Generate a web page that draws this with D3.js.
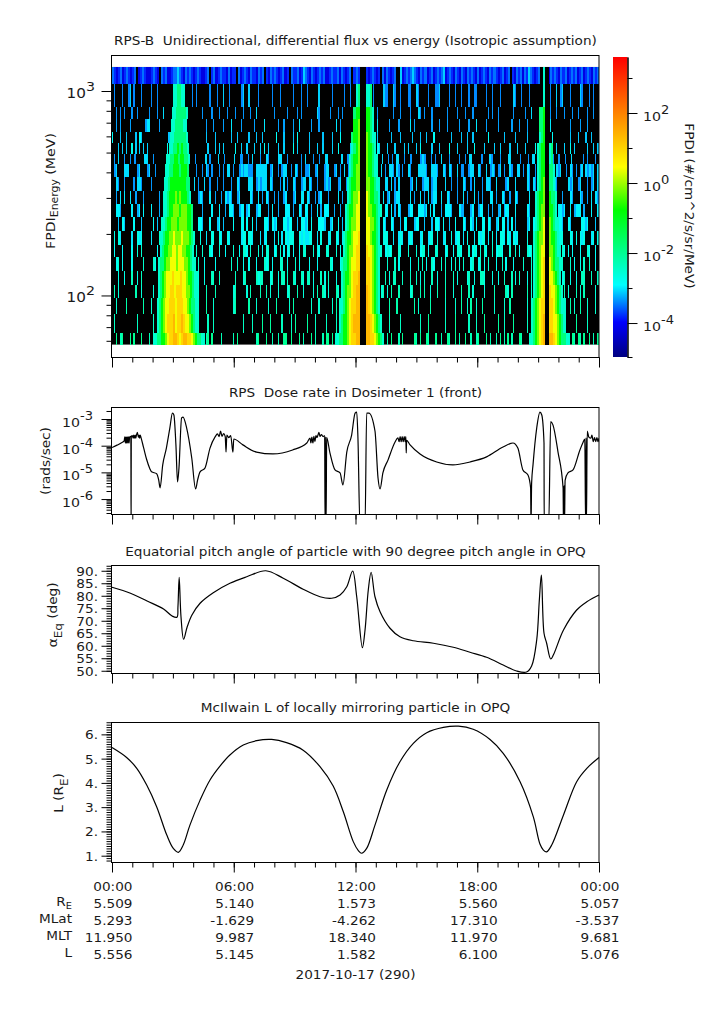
<!DOCTYPE html>
<html>
<head>
<meta charset="utf-8">
<script src="https://cdnjs.cloudflare.com/ajax/libs/d3/7.8.5/d3.min.js"></script>
<style>
  html, body { margin: 0; padding: 0; background: #fff; }
  svg { display: block; }
  text { font-family: "DejaVu Sans", sans-serif; font-size: 12.5px; fill: #1a1a1a; white-space: pre; }
</style>
</head>
<body>
<script>
var w = 725;
var h = 1019;

// energy bin edges of the spectrogram (MeV), top to bottom
var energyEdges = [1311, 1082, 835, 729, 630, 556, 491, 438, 378, 323, 279, 241, 206, 176, 154, 131, 113, 96.7, 81.6, 65.2, 57.5];

// log10 flux of a single count in each energy bin
var noiseLog = [-3.8, -3.4, -3.35, -3.3, -3.15, -3.1, -3.35, -3.35, -3.35, -3.3, -3.25, -3.15, -3.0, -2.85, -2.8, -2.7, -2.6, -2.5, -2.4, -2.3];

// counts per time column: . none, - one, = more, _ less, + most
var noiseRows = [
  "=-_-=_-=-_ -=._-=-__- =-_.=-=__- ==+=-_=-=- _-=-__-=.- =_-=--_=_- -.=_-=-_=- -_=-=.-_=- =-_-=_-.=- -=_-+=-_=- _-=-=__-=- -=_=-_-=.- =-_==-_-=- _-.=_=-_-= ..+_-=-=+= -_=-=_-=_- =-=+_-=-_= -_=-_=-=-_ =_-=-_=-=- _-=_-=.-_= -=_=-+=-_- =..++_=-=- _=-=_-=-=_ -=_-=-_=-=",
  ".-...-..-= .-...-.... -..-...... .......... .-.-...... -...-..=.. -.....-=.. =....-.... ..-...-... ...-...-.. -.....=... ...-.....- ..-...-=.. ....-....= --..=-..-. ..--..=-.. ..-...--=. ...-..-..- ...-..--.. ..-..-...- ......=-.. -...-..... .....-..=. -=...-.... =-...-.-..",
  "..-.-.-... -..-.....- ...-..=... .......... ......-... .-...-...- ...-...-.. .-..=..... ...-...... -....-.-.. .....=-... ..-...-.-. ......-... ..--..-... ....-...-. ...-...=-. -...-..... ..-....-.. .-...-.... ...-.-..-. ......-... ..-..=.... .....-..-. ..-...-..- ....-..-..",
  "..-.-....- .......-== ....-..... ..-....... ........-. ..-....-.. .=....-... ...-....=. .....-..-. ...-..=... ..-...-... .....=.-.. ....-..... ...-..=... ..-....-.. ...=.-.... ....-...-. ..-.....-. ...-...=.. ..-.....-. .....-...- ...-...... ..-..=.... .....-.... -...-.....",
  "=...-..-.. ..-.=-.... .........- .......... ........-. ...-...... .-..-..... -...-..-.. ....=...-. ...-.=.... .-......-. ...-...=.. .....-.... ..-...-... ...-....-. ....-...-. .-...=.... ....-....- ..-..-.... ...=...... .-.....-.. ...-...... ..-...=... .....-...- ...-..-...",
  "...-.-.-.. =.-.-.-.-. ........=. .......... .........- ...-.-.-.. ...=..-..- ...-..-.=. -....-..-. ...=.-.... .-...-..-. ...-..=... ..--.-.... ...-..=-.. .-...-.... -.-...-.=. ....-...-. ...=...-.. ..-...=... .-....-..- ....-...-. ..-....=.. .....-..-. ..-..=.-.. ....-..-.-",
  ".-.=..-..- .-....==.. -......... .......... .-....=.-. ..=..-.... =..--..-.= ...-..=-.. ..==..-... ...-.=...- ..-..==... ...=..-.-. ..-.=...-. ...=..-.-. ==..-..-.. ..-=-..-.- ..=...-... .-..-.==.. ..-...=-.. .-...==... .-...-.==. ....=..-.. -..-..=... ..-.-...-.",
  ".-=...===. ...-=...-= ..-....... .......... ...-..-.=- .-...-.-.= =.-..-=-== ---.====== .-=..-.-== ..-.=-.-.- -=..-=...- ==..-=.-.= .-..=-..=- ..-.=-..=. -.==-.=-.- ..=-...=== =-..===-.. =-.=-..=.- -..-==..=- ..=.-=-.-= .-..=-..== .-.=-..-.= ...-=-..=- =..-.=-.-. -=.=-=-=.=",
  "..=-..-... .-.==-.... -......... .......... ..=.-..=.. -...-..-.. .-..=-.... ===.-=-=== .=-...-.=. -..=-..-== .=-..-...- =-=...-=.. -..=-..-.= ==..-..-.. ==.=.-.=.. ...-=.=..- ===.-==... .=..-..-.. =-..-.=... -.==-..=.. ..-=...=.. ...=-.=-.- =.-..-.=-. ....=-=..- =...-.-=.=",
  "..-.=.=..= ..-...-... ....-..... .......... ....-=-... =..-..-.=- =-..-=.... .=-..=.-.= -..-.-..-= ...-=..==. =-..-.-=.. .-....=.-. .=..-.=..- -=..-.=..= .-=..-==.. ...=.-..=. -.=.-==..= ..=-...-.. =.-...=.-. -...==.-.. =-..-..=-. ....=...-. ==.-..-.-. .-...=-... =-..-.=.=-",
  "..==-..... =..-=.=... =...-..... .......... ......-... .=...=..-. ==-..-==.- =...-==... -.=..-...= ==.-..=-.= =.-..=.-.= ==..-..-.. -=..-=...= -..=-..-=. ==.=.-.=-. ..-==..=== -=.=.=...- .===-...=- -...-=..-= =..-.-..-= .-==...=.. ...=-...=. -=..-..-.= =-=..=.-== =.-...=..=",
  "...-.=-... .=...-.... .=.-...... ...-...... ....==-... =...-=.-.. ..=...==.= ..=.-...== -.=-=...== -==..-.==- =.=...===- ..-=..=.-. ==...-==.- ==.-...-.= -..=-...-. ==...-==.. -...-.==-. =..-..=... =-..=-.=.. ==.=-..-=. ==.-.=.-.. ...-=.==.. =...=-.=== =-..=-.... .==-=...-.",
  ".=.=-..... -..=-=.... -...-..... .......... .....=..-. .==..=-..= -.....-==. ==-...-.-= ...-.=.-.= -===..=-=- -==..-.=.. .-=..=-.-= ==..-=..== -=-..=...= ==..-..-=- ..-=-...-= ..-==..=.. -=..=.-==. -.=...-.=- ==.-.=.-.= =-.=-.=-=. ...=...-.= =...-=-.-= ==...=-.=. =-=...-=.=",
  ".-...-.... -..=.=.... ...-...... .......... ...=..=... =-...=..-. ..=..-.==- .=...=.-.= =..-=.=.-. -=.-..-.== ...=.=-... ==...=.-.= .-...=..-. =...=.-==. -=-=...=-. ..=...=.-= =.-...==.. .-=..-.==- ...=.-=-.= .=-..=.-== -...=..=.- ...=-=.... =.-=...-.= .=-.-.-... -...=-..-.",
  "..-=.-.... -.....=... .=-....... .......... ....=..-.. ...-...... .=..=..-.. -...-...=- =.-...==.. -...=.-... .-...-.... ..=-...-.- ==.-..=... .=...-.=.. .=...=.-.. ...-...=.= .-..=-...= .=..-.=.-. =...-=..-= .-.=...-.. =.-...-... .=...=.-.. ...-=...=. .=...=.-.. -.=..=..-.",
  "...-..-... =..-.=.... ....=-.... .......... ....-..-.. .==..=.... ...=...-=. ....=-==.. .-=..-.==. =..=-..=-. ==.-...=.- .=...-...= .=..-...-= .-...=.=.. =.-.==...= ...=..=.-. =...=..-.. .=...=.-.. ..-=..-..= =-...-..-. .=...=.-.= ...-.=..=. -..=...-.= .-=..-..-. .==...=..=",
  ".=.-...... ..=..-.... .-........ .......... ....-...=. ...=...... ..-=.....- .=....=..= .-...-.... -=...=..-. ...-.=..=- .-...=-... .-....-.=. .=...-..-= .-.=...=.. ...-=...=. =..-...=.. .=...-...= ...=.-.... .-....=... ..=-.=.... ...=.-.... .-.=...-.. ..=.-...=. -.=.....-.",
  "..-....=.. ......=... -......... .......... ........=. ..-....... ..-=...... =...-..... -...=..... .-.=...... ..-...-... ...-.=.... -....=...= .-..=..... ..=...=... .....=.-.. ...=...... .-....-..= ..-.=..-.. =.....-... .-..=..... ...-...=.. ..=....-.. .-...=.-.. =...-...-.",
  ".-........ ...-...... .-........ .......... .........- ..-....... .......-.. ..-....=.. .=.....-.. ..-.=..... =...-..... -....-.... .-....=... ..=.-..... ..-.....-. ........-. ..=....... .-....=... ...-...-.. .=......=. .-....=... ...-...... ..-..=.... .=......=. ....-.....",
  "..=.-=...= .=...=...- ...-=....= .......... ........-= .=....-... ..-.=..... ....-=...= ..-..-..== ..=...=.-. ..=.-...-. ==.=...-.. .-..-.-..= ..=-...=-. .-.=...-.= .....=-.=. .=-...=..- ..=-..=.-. .=..-..-=. ..=.-..-.= .-.=.-...= -...=..=.- ...=-...-. .=.-..=-.= -.=..=.-.="
];

// radiation belt passes: start hour and one flux level per 0.1 h (. is no counts)
var beltOneStart = [null, 3.0, 2.95, 2.9, 2.85, 2.8, 2.65, 2.6, 2.55, 2.5, 2.5, 2.4, 2.3, 2.35, 2.25, 2.25, 2.25, 2.2, 2.2, 2.0];
var beltOneLevels = [
  "", "aabbaa", "aabbbbba", "aabbbbaa", "aabbbbbba", "aabbcbcbba", "aabbccbccbba", "aabbcccbcccb",
  "aabccccccccbb", "aabcccdcdcccba", "aabccdddcdddccb", "aabccdddcddddccb", "aabccddedddedddcba",
  "abccddeedeeddccba", "abbcddeeedeeeddcbaa", "abcdeeefeeefeedccbaa", "abcdeeffefffeeddcbaa",
  "abcdeefffefffeedcbbaa", "abcdefffgeffgfeedcbaa", "aabbccdeffggfefggffedcbbaa"
];
var beltTwoStart = [12.2, 12.0, 11.9, 11.9, 11.8, 11.8, 11.7, 11.7, 11.6, 11.6, 11.5, 11.5, 11.4, 11.4, 11.3, 11.3, 11.3, 11.2, 11.2, 11.0];
var beltTwoLevels = [
  "...", "ab...aab", "bcc...ccba", "ccd...ccba", "bccd...dcbaa", "abcd...dccba", "abccd...dccbaa",
  "abcdd...dccbaa", "abccdd...ddccbaa", "abcdde...edccbba", "abccdee...eddccbaa", "abcddee...eeddcba",
  "abccdeef...eedccba", "abcddeff...feedcba", "abbcdeeff...ffedcba", "abccdeffg...ffedcba",
  "abcddefgg...gfedcba", "aabcdeffgg...gfedcba", "abccdefggg...ggfedcba", "aabbccdeffgg...ggffedcba"
];
var beltThreeStart = [21.25, 21.25, 21.05, 21.05, 21.05, 20.95, 20.95, 20.95, 20.95, 20.85, 20.85, 20.85, 20.75, 20.75, 20.75, 20.75, 20.75, 20.65, 20.65, 20.55];
var beltThreeLevels = [
  "a..", "a..", "bbc..", "bbc..", "abc..", "abcc..ab", "abcc..ab", "abcc..bba", "abcd..bba",
  "abccd..cbba", "abcdd..ccba", "abcde..dcbaa", "abcdde..dccba", "abcdee..ddcbaa", "abcdef..edcbbaa",
  "abcdef..eedcba", "abcdef..feedcba", "abcdeff..ffedcbaa", "abcdefg..ffeedcba", "aabcdefg..ggfedcbbaa"
];
var levelLog = { a: -2.5, b: -1.8, c: -0.85, d: -0.2, e: 0.4, f: 0.95, g: 1.35 };
var noiseStep = { "-": 0, "=": 0.3, "_": -0.4, "+": 0.7 };

// dose rate, hours and log10(rads/sec)
var doseHours = [0, 0.25, 0.45, 0.6, 0.63, 0.66, 0.69, 0.72, 0.75, 0.78, 0.81, 0.84, 0.87, 0.93, 0.94, 0.95, 1.0, 1.04, 1.07, 1.1, 1.14, 1.17, 1.2, 1.25, 1.3, 1.33, 1.36, 1.39, 1.43, 1.55, 1.7, 1.87, 1.95, 2.2, 2.3, 2.37, 2.5, 2.68, 2.85, 2.98, 3.05, 3.15, 3.23, 3.3, 3.43, 3.5, 3.68, 3.93, 4.12, 4.22, 4.34, 4.58, 4.83, 5.08, 5.2, 5.28, 5.35, 5.42, 5.5, 5.58, 5.62, 5.66, 5.75, 5.85, 5.96, 6.0, 6.45, 7.12, 7.93, 8.9, 9.6, 9.76, 9.8, 9.85, 9.9, 9.95, 10.0, 10.05, 10.1, 10.15, 10.2, 10.25, 10.32, 10.4, 10.48, 10.5, 10.53, 10.55, 10.58, 10.74, 10.99, 11.24, 11.38, 11.57, 11.81, 11.98, 12.06, 12.12, 12.22, 12.47, 12.55, 12.66, 12.96, 13.11, 13.21, 13.35, 13.6, 13.95, 14.09, 14.15, 14.2, 14.25, 14.3, 14.35, 14.4, 14.45, 14.48, 14.5, 14.52, 14.69, 15.18, 16.0, 16.8, 17.64, 18.46, 19.27, 19.76, 20.0, 20.25, 20.5, 20.63, 20.65, 20.68, 20.75, 20.93, 21.09, 21.18, 21.29, 21.3, 21.52, 21.62, 21.73, 21.98, 22.23, 22.25, 22.28, 22.3, 22.33, 22.47, 22.72, 23.06, 23.2, 23.3, 23.34, 23.36, 23.38, 23.42, 23.5, 23.6, 23.65, 23.72, 23.78, 23.84, 23.9, 23.95, 24];
var doseLog = [-4.07, -3.98, -3.9, -3.82, -3.67, -3.9, -3.67, -3.9, -3.67, -3.9, -3.67, -3.9, -3.67, -3.65, -7, -3.66, -3.62, -3.72, -3.6, -3.72, -3.6, -3.72, -3.62, -3.5, -3.68, -3.6, -3.72, -3.6, -3.7, -4.05, -4.5, -4.87, -4.98, -5.05, -5.28, -5.58, -4.72, -4.09, -3.34, -2.78, -2.85, -3.97, -5.36, -4.84, -2.96, -2.93, -3.34, -4.46, -5.62, -5.28, -4.98, -4.84, -4.09, -3.67, -3.56, -3.66, -3.45, -3.65, -3.55, -3.66, -4.24, -3.6, -3.7, -3.62, -4.24, -3.75, -3.97, -4.24, -4.31, -4.16, -3.9, -3.72, -3.9, -3.68, -3.9, -3.65, -3.85, -3.62, -3.7, -3.6, -3.5, -3.65, -3.58, -3.66, -3.62, -7, -3.66, -7, -3.7, -4.27, -4.91, -5.02, -5.47, -4.24, -3.6, -2.78, -2.74, -3.7, -7, -7, -2.78, -2.78, -3.45, -5.21, -5.62, -5.02, -4.54, -3.86, -3.71, -3.85, -3.66, -3.85, -3.66, -3.85, -3.66, -3.85, -3.66, -4.27, -3.8, -3.97, -4.31, -4.61, -4.72, -4.61, -4.42, -4.05, -3.9, -4.09, -4.91, -5.1, -5.58, -7, -5.4, -4.7, -3.34, -2.74, -2.85, -3.9, -7, -7, -3.1, -3.22, -4.24, -5.58, -7, -5.5, -7, -5.3, -5.02, -4.91, -4.16, -3.9, -3.75, -7, -3.7, -7, -3.45, -3.68, -3.72, -3.6, -3.85, -3.7, -3.85, -3.7, -3.85, -3.72];

// equatorial pitch angle (deg)
var pitchHours = [0, 0.91, 1.73, 2.54, 2.96, 3.2, 3.25, 3.31, 3.4, 3.53, 3.7, 3.94, 4.34, 4.99, 5.81, 6.64, 7.58, 8.44, 9.42, 10.25, 10.83, 11.24, 11.57, 11.86, 12.06, 12.34, 12.47, 12.63, 12.77, 12.96, 13.21, 13.7, 14.19, 14.85, 15.84, 16.82, 17.64, 18.46, 19.28, 19.94, 20.43, 20.68, 20.93, 21.06, 21.16, 21.29, 21.42, 21.62, 21.75, 22.25, 22.9, 23.4, 24];
var pitchDeg = [83.4, 81, 77.9, 74.7, 71.9, 71.4, 75.6, 87.4, 71.6, 62.6, 67.4, 72.3, 77, 81.2, 85, 87.6, 90, 87, 82.6, 79.6, 79, 80.3, 83.6, 89.9, 79.6, 59.2, 66.3, 82.3, 89.4, 79.6, 73.6, 67, 63.6, 62, 61, 59.4, 57.4, 55.4, 52.3, 49.9, 49.5, 51.9, 62.3, 78.3, 88.3, 65, 61, 54.7, 56.3, 66.3, 74.3, 77.6, 80.3];

// McIlwain L
var lHours = [0, 0.72, 1.22, 1.71, 2.2, 2.7, 3.02, 3.27, 3.51, 3.84, 4.34, 4.83, 5.32, 5.81, 6.47, 7.13, 7.87, 8.6, 9.42, 10.25, 10.9, 11.4, 11.89, 12.14, 12.3, 12.55, 12.96, 13.54, 14.19, 14.85, 15.51, 16.33, 17.07, 17.8, 18.63, 19.28, 20.11, 20.76, 21.09, 21.26, 21.42, 21.67, 22.25, 22.9, 23.4, 24];
var lValues = [5.46, 5.05, 4.6, 3.91, 3.02, 1.85, 1.3, 1.14, 1.44, 2.26, 3.29, 4.12, 4.69, 5.15, 5.56, 5.74, 5.79, 5.66, 5.35, 4.67, 3.87, 2.81, 1.58, 1.21, 1.1, 1.3, 2.26, 3.71, 4.87, 5.63, 6.07, 6.29, 6.34, 6.21, 5.79, 5.22, 4.05, 2.61, 1.48, 1.23, 1.16, 1.44, 2.68, 4.05, 4.6, 5.05];

// colour table, log10 flux to rgb
var colourLog = [-4.97, -3.97, -2.91, -0.77, 0.46, 3.6];
var colourRgb = ["#000080", "#0000ff", "#00ffff", "#00ff00", "#ffff00", "#ff0000"];

// bottom annotation table
var timeLabels = ["00:00", "06:00", "12:00", "18:00", "00:00"];
var timeHours = [0, 6, 12, 18, 24];
var reValues = ["5.509", "5.140", "1.573", "5.560", "5.057"];
var mlatValues = ["5.293", "-1.629", "-4.262", "17.310", "-3.537"];
var mltValues = ["11.950", "9.987", "18.340", "11.970", "9.681"];
var lShellValues = ["5.556", "5.145", "1.582", "6.100", "5.076"];

var stretch = 1.09;

var svg = d3.select("body").append("svg")
    .attr("width", w)
    .attr("height", h);

var x = d3.scaleLinear().domain([0, 24]).range([112, 599]);
var colour = d3.scaleLinear().domain(colourLog).range(colourRgb).clamp(true);

function label(px, py, anchor, rotate) {
    // all the text in the plot is a bit wider than the font
    var t = "translate(" + px + "," + py + ")";
    if (rotate) t += " rotate(" + rotate + ")";
    t += " scale(" + stretch + ",1)";
    return svg.append("text")
        .attr("transform", t)
        .attr("text-anchor", anchor);
}

function subLabel(px, py, anchor, rotate, parts) {
    // parts: [text, dy, size]
    var txt = label(px, py, anchor, rotate);
    parts.forEach(function(p) {
        txt.append("tspan").attr("dy", p[1]).style("font-size", p[2] + "px").text(p[0]);
    });
    return txt;
}

function power(px, py, exp, size, anchor) {
    subLabel(px, py, anchor, 0, [["10", 0, size], [exp, -7, size - 1]]);
}

function panelFrame(top, bottom) {
    svg.append("rect")
        .attr("x", 111.5).attr("y", top + 0.5)
        .attr("width", 487.5).attr("height", bottom - top)
        .attr("fill", "none").attr("stroke", "#000");
}

function timeAxis(bottom) {
    var g = svg.append("g").attr("transform", "translate(0," + (bottom + 0.5) + ")");
    g.append("g").call(d3.axisBottom(x).tickValues(d3.range(0, 25)).tickSize(5).tickFormat("").tickSizeOuter(0));
    g.append("g").call(d3.axisBottom(x).tickValues(timeHours).tickSize(10).tickFormat("").tickSizeOuter(0));
    g.selectAll(".domain").remove();
    g.selectAll("line").attr("stroke", "#000");
}

function yTicks(scale, minor, major) {
    var g = svg.append("g").attr("transform", "translate(111.5,0)");
    g.append("g").call(d3.axisLeft(scale).tickValues(minor).tickSize(5).tickFormat("").tickSizeOuter(0));
    g.append("g").call(d3.axisLeft(scale).tickValues(major).tickSize(10).tickFormat("").tickSizeOuter(0));
    g.selectAll(".domain").remove();
    g.selectAll("line").attr("stroke", "#000");
}

function logMinors(lo, hi, min, max) {
    var out = [];
    for (var e = lo; e <= hi; e++) {
        for (var m = 2; m < 10; m++) {
            var v = m * Math.pow(10, e);
            if (v > min && v < max) out.push(v);
        }
    }
    return out;
}

// SPECTROGRAM =====================================

var yE = d3.scaleLog().domain([50, 1500]).range([357, 55]);

svg.append("rect")
    .attr("x", x(0)).attr("y", yE(energyEdges[0]))
    .attr("width", x(24) - x(0))
    .attr("height", yE(energyEdges[energyEdges.length - 1]) - yE(energyEdges[0]))
    .attr("fill", "#000");

var cells = [];
noiseRows.forEach(function(row, i) {
    var chars = row.replace(/ /g, "");
    var dt = 24 / chars.length;
    chars.split("").forEach(function(c, j) {
        if (c == ".") return;
        // a lone count is a thin strip, runs of counts join up
        var alone = i > 0 && chars[j + 1] == ".";
        cells.push({ row: i, t: j * dt, dt: alone ? dt * 0.6 : dt, log: noiseLog[i] + noiseStep[c] });
    });
});

function addBelt(starts, levels) {
    levels.forEach(function(str, i) {
        if (starts[i] === null) return;
        str.split("").forEach(function(c, j) {
            cells.push({ row: i, t: starts[i] + j * 0.1, dt: 0.1, log: c == "." ? null : levelLog[c] });
        });
    });
}
addBelt(beltOneStart, beltOneLevels);
addBelt(beltTwoStart, beltTwoLevels);
addBelt(beltThreeStart, beltThreeLevels);

svg.append("g").attr("shape-rendering", "crispEdges")
    .selectAll("rect")
    .data(cells)
    .enter().append("rect")
        .attr("x", function(d) { return x(d.t); })
        .attr("y", function(d) { return yE(energyEdges[d.row]); })
        .attr("width", function(d) { return x(d.t + d.dt) - x(d.t); })
        .attr("height", function(d) { return yE(energyEdges[d.row + 1]) - yE(energyEdges[d.row]); })
        .attr("fill", function(d) { return d.log === null ? "#000" : colour(d.log); });

panelFrame(55, 357);
timeAxis(357);
yTicks(yE, logMinors(1, 3, 50, 1500), [100, 1000]);
power(95, yE(1000) + 7, "3", 14, "end");
power(95, yE(100) + 7, "2", 14, "end");

label(355.5, 45, "middle").text("RPS-B  Unidirectional, differential flux vs energy (Isotropic assumption)");
subLabel(55, 191, "middle", -90, [["FPDI", 0, 13], ["Energy", 3, 10], [" (MeV)", -3, 13]]);

// colour bar
var yC = d3.scaleLog().domain([Math.pow(10, -4.97), Math.pow(10, 3.6)]).range([357, 57]);
var grad = svg.append("defs").append("linearGradient")
    .attr("id", "bar").attr("x1", 0).attr("y1", 1).attr("x2", 0).attr("y2", 0);
grad.selectAll("stop")
    .data(colourLog)
    .enter().append("stop")
        .attr("offset", function(d) { return (d - colourLog[0]) / (colourLog[5] - colourLog[0]); })
        .attr("stop-color", function(d) { return colour(d); });
svg.append("rect")
    .attr("x", 613).attr("y", 57).attr("width", 14.5).attr("height", 300)
    .attr("fill", "url(#bar)");
var barAxis = svg.append("g").attr("transform", "translate(627.5,0)");
barAxis.append("g").call(d3.axisRight(yC).tickValues([1e3, 1e1, 1e-1, 1e-3, Math.pow(10, -4.97)]).tickSize(5).tickFormat("").tickSizeOuter(0));
barAxis.append("g").call(d3.axisRight(yC).tickValues([1e2, 1, 1e-2, 1e-4]).tickSize(10).tickFormat("").tickSizeOuter(0));
barAxis.selectAll("line").attr("stroke", "#000");
barAxis.selectAll(".domain").attr("stroke", "#000");
[["2", 1e2], ["0", 1], ["-2", 1e-2], ["-4", 1e-4]].forEach(function(p) {
    power(643, yC(p[1]) + 8, p[0], 13, "start");
});
label(685, 206, "middle", 90).text("FPDI (#/cm^2/s/sr/MeV)");

// DOSE RATE =====================================

var yD = d3.scaleLog().domain([Math.pow(10, -6.56), Math.pow(10, -2.55)]).range([514, 407]);
svg.select("defs").append("clipPath").attr("id", "doseClip").append("rect")
    .attr("x", 112).attr("y", 407).attr("width", 487).attr("height", 107);

var doseLine = d3.line()
    .x(function(d) { return x(d); })
    .y(function(d, i) { return yD(Math.pow(10, doseLog[i])); })
    .curve(d3.curveMonotoneX);
svg.append("path")
    .datum(doseHours)
    .attr("d", doseLine)
    .attr("clip-path", "url(#doseClip)")
    .attr("fill", "none").attr("stroke", "#000").attr("stroke-width", 1.2);

panelFrame(407, 514);
timeAxis(514);
yTicks(yD, logMinors(-7, -3, Math.pow(10, -6.56), Math.pow(10, -2.55)), [1e-3, 1e-4, 1e-5, 1e-6]);
[["-3", 1e-3], ["-4", 1e-4], ["-5", 1e-5], ["-6", 1e-6]].forEach(function(p) {
    power(93, yD(p[1]) + 8, p[0], 13, "end");
});
label(355.5, 397, "middle").text("RPS  Dose rate in Dosimeter 1 (front)");
label(50, 461, "middle", -90).text("(rads/sec)");

// PITCH ANGLE =====================================

var yP = d3.scaleLinear().domain([49.1, 92.3]).range([673, 565]);
var pitchLine = d3.line()
    .x(function(d) { return x(d); })
    .y(function(d, i) { return yP(pitchDeg[i]); })
    .curve(d3.curveCatmullRom.alpha(0.5));
svg.append("path")
    .datum(pitchHours)
    .attr("d", pitchLine)
    .attr("fill", "none").attr("stroke", "#000").attr("stroke-width", 1.2);

panelFrame(565, 673);
timeAxis(673);
yTicks(yP, d3.range(50, 93), d3.range(50, 95, 5));
d3.range(50, 95, 5).forEach(function(v) {
    label(98, yP(v) + 5, "end").text(v + ".");
});
label(355.5, 556, "middle").text("Equatorial pitch angle of particle with 90 degree pitch angle in OPQ");
subLabel(57, 615, "middle", -90, [["\u03b1", 0, 13], ["Eq", 5, 11], [" (deg)", -5, 12.5]]);

// MCILWAIN L =====================================

var yL = d3.scaleLinear().domain([0.74, 6.51]).range([862, 722]);
var lLine = d3.line()
    .x(function(d) { return x(d); })
    .y(function(d, i) { return yL(lValues[i]); })
    .curve(d3.curveCatmullRom.alpha(0.5));
svg.append("path")
    .datum(lHours)
    .attr("d", lLine)
    .attr("fill", "none").attr("stroke", "#000").attr("stroke-width", 1.2);

panelFrame(722, 862);
timeAxis(862);
yTicks(yL, d3.range(0.8, 6.55, 0.1), d3.range(1, 7));
d3.range(1, 7).forEach(function(v) {
    label(98, yL(v) + 5, "end").text(v + ".");
});
label(355.5, 712, "middle").text("McIlwain L of locally mirroring particle in OPQ");
subLabel(63, 793, "middle", -90, [["L (R", 0, 12.5], ["E", 5, 11], [")", -5, 12.5]]);

// TIME TABLE =====================================

function tableRow(values, py) {
    values.forEach(function(v, i) {
        label(x(timeHours[i]) + 20.5, py, "end").text(v);
    });
}
tableRow(timeLabels, 890.5);
tableRow(reValues, 907.5);
tableRow(mlatValues, 924.5);
tableRow(mltValues, 941.5);
tableRow(lShellValues, 958.5);

subLabel(72, 906, "end", 0, [["R", 0, 12.5], ["E", 3, 9]]);
label(72, 923, "end").text("MLat");
label(72, 940, "end").text("MLT");
label(72, 957, "end").text("L");
label(355.5, 979, "middle").text("2017-10-17 (290)");
</script>
</body>
</html>
